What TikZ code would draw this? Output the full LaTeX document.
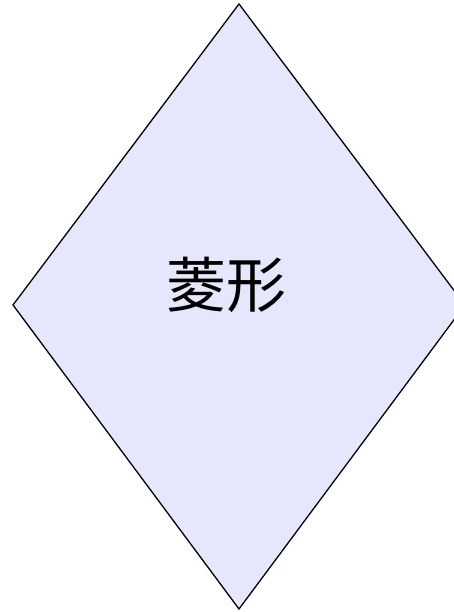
\documentclass[tikz,border=0pt]{standalone}
\usepackage{fontspec}
\newfontfamily\cjk{Noto Sans CJK SC}
\definecolor{lav}{RGB}{230,230,252}
\begin{document}
\begin{tikzpicture}[x=1pt,y=1pt,
  shapebox/.style={draw=black, fill=lav, line width=1.3pt, line join=miter}]
\useasboundingbox (0,0) rectangle (454,612);
\clip (0,0) rectangle (454,612);
\coordinate (T) at (239,608);
\coordinate (L) at (13,307);
\coordinate (R) at (465,307);
\coordinate (B) at (239,3);
\draw[shapebox] (T) -- (L) -- (B) -- (R) -- cycle;
\node[font=\cjk\fontsize{60}{60}\selectfont, inner sep=0pt] (lbl) at (226,327) {菱形};
\end{tikzpicture}
\end{document}
